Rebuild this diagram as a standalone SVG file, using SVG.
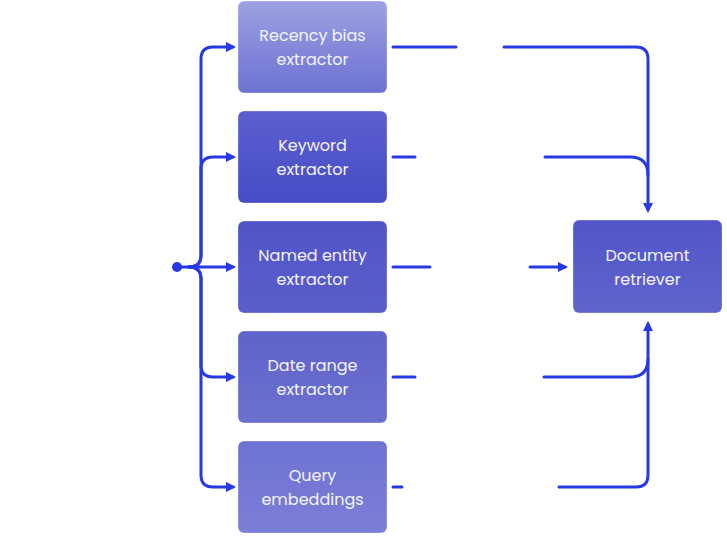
<svg xmlns="http://www.w3.org/2000/svg" width="727" height="542" viewBox="0 0 727 542">
<style>
.c{fill:none;stroke:#2639e3;stroke-width:3;stroke-linecap:round;stroke-linejoin:round}
.t{font-family:Poppins,"Open Sans","Liberation Sans",sans-serif;font-size:16px;fill:#f4f4ff;text-anchor:middle}
.b{stroke:#ffffff;stroke-opacity:0.3;stroke-width:1}
</style>
<defs>
<marker id="a" markerWidth="10" markerHeight="10" refX="7" refY="5" orient="auto" markerUnits="userSpaceOnUse"><path d="M0,0L10,5L0,10Z" fill="#2639e3"/></marker>
<linearGradient id="g1" x1="0" y1="0" x2="0" y2="1"><stop offset="0" stop-color="#9ca1e2"/><stop offset="1" stop-color="#6d72d3"/></linearGradient>
<linearGradient id="g2" x1="0" y1="0" x2="0" y2="1"><stop offset="0" stop-color="#5b5fd0"/><stop offset="1" stop-color="#484cc5"/></linearGradient>
<linearGradient id="g3" x1="0" y1="0" x2="0" y2="1"><stop offset="0" stop-color="#5054c8"/><stop offset="1" stop-color="#5a5ecb"/></linearGradient>
<linearGradient id="g4" x1="0" y1="0" x2="0" y2="1"><stop offset="0" stop-color="#5f63ca"/><stop offset="1" stop-color="#6c70cf"/></linearGradient>
<linearGradient id="g5" x1="0" y1="0" x2="0" y2="1"><stop offset="0" stop-color="#6e72d2"/><stop offset="1" stop-color="#7b7fd7"/></linearGradient>
<linearGradient id="g6" x1="0" y1="0" x2="0" y2="1"><stop offset="0" stop-color="#5155c9"/><stop offset="1" stop-color="#6064cd"/></linearGradient>
</defs>
<g id="connectors">
<circle cx="177" cy="267" r="5" fill="#2639e3"/>
<path class="c" d="M177,267H189Q201,267 201,255V59Q201,47 213,47H233" marker-end="url(#a)"/>
<path class="c" d="M189,267Q201,267 201,255V169Q201,157 213,157H233" marker-end="url(#a)"/>
<path class="c" d="M189,267H233" marker-end="url(#a)"/>
<path class="c" d="M189,267Q201,267 201,279V365Q201,377 213,377H233" marker-end="url(#a)"/>
<path class="c" d="M189,267Q201,267 201,279V475Q201,487 213,487H233" marker-end="url(#a)"/>
<path class="c" d="M393,47H456"/>
<path class="c" d="M504,47H636Q648,47 648,59V210" marker-end="url(#a)"/>
<path class="c" d="M393,157H415"/>
<path class="c" d="M545,157H630Q648,157 648,175"/>
<path class="c" d="M393,267H430"/>
<path class="c" d="M530,267H565" marker-end="url(#a)"/>
<path class="c" d="M393,377H415"/>
<path class="c" d="M544,377H630Q648,377 648,359"/>
<path class="c" d="M393,487H402"/>
<path class="c" d="M559,487H636Q648,487 648,475V324" marker-end="url(#a)"/>
</g>
<g id="n1"><rect class="b" x="238" y="1" width="149" height="92" rx="6" fill="url(#g1)"/><text class="t" x="312.5" y="41">Recency bias</text><text class="t" x="312.5" y="65">extractor</text></g>
<g id="n2"><rect class="b" x="238" y="111" width="149" height="92" rx="6" fill="url(#g2)"/><text class="t" x="312.5" y="151">Keyword</text><text class="t" x="312.5" y="175">extractor</text></g>
<g id="n3"><rect class="b" x="238" y="221" width="149" height="92" rx="6" fill="url(#g3)"/><text class="t" x="312.5" y="261">Named entity</text><text class="t" x="312.5" y="285">extractor</text></g>
<g id="n4"><rect class="b" x="238" y="331" width="149" height="92" rx="6" fill="url(#g4)"/><text class="t" x="312.5" y="371">Date range</text><text class="t" x="312.5" y="395">extractor</text></g>
<g id="n5"><rect class="b" x="238" y="441" width="149" height="92" rx="6" fill="url(#g5)"/><text class="t" x="312.5" y="481">Query</text><text class="t" x="312.5" y="505">embeddings</text></g>
<g id="n6"><rect class="b" x="573" y="220" width="149" height="93" rx="6" fill="url(#g6)"/><text class="t" x="647.5" y="261">Document</text><text class="t" x="647.5" y="285">retriever</text></g>
</svg>
